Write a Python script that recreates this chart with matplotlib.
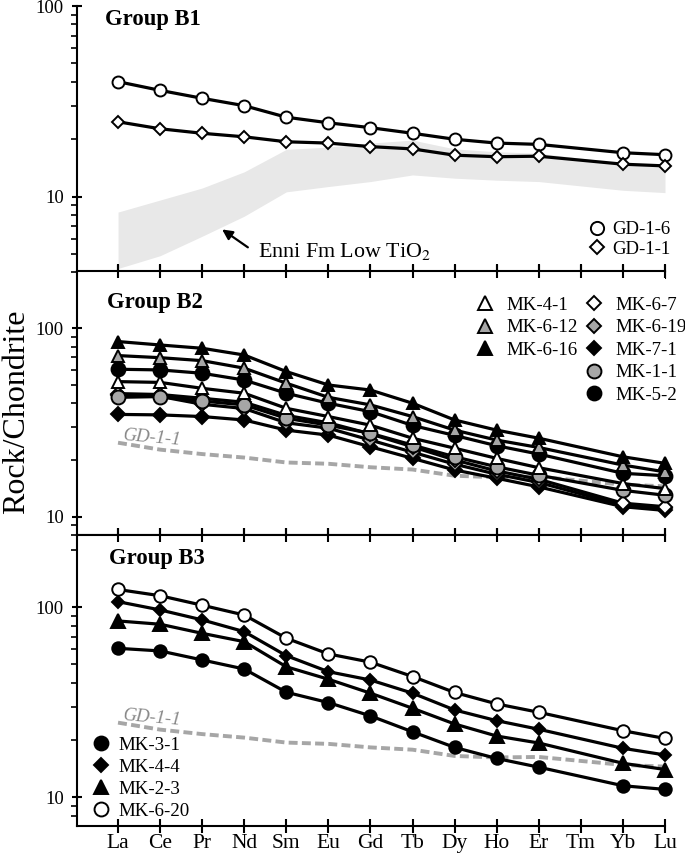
import matplotlib
matplotlib.use("Agg")
import matplotlib.pyplot as plt
from matplotlib.lines import Line2D
from matplotlib.ticker import LogLocator, NullFormatter

plt.rcParams["font.family"] = ["Liberation Serif", "DejaVu Serif"]
plt.rcParams["mathtext.fontset"] = "stix"

# REE order on the x axis; Tm was not measured
elements = ["La", "Ce", "Pr", "Nd", "Sm", "Eu", "Gd", "Tb", "Dy", "Ho", "Er", "Tm", "Yb", "Lu"]
measured = ["La", "Ce", "Pr", "Nd", "Sm", "Eu", "Gd", "Tb", "Dy", "Ho", "Er", "Yb", "Lu"]

# Group B1
gd_1_6 = [40.1, 36.1, 32.8, 30.0, 26.1, 24.4, 23.0, 21.5, 20.0, 19.1, 18.8, 17.0, 16.6]
gd_1_1 = [24.7, 22.7, 21.5, 20.6, 19.4, 19.1, 18.3, 17.8, 16.5, 16.2, 16.3, 14.8, 14.5]
enni_upper = [8.3, 9.6, 11.1, 13.5, 17.7, 18.2, 19.1, 19.8, 17.8, 17.2, 16.9, 15.0, 14.3]
enni_lower = [4.2, 4.9, 6.2, 7.9, 10.6, 11.3, 12.0, 13.0, 12.5, 12.2, 12.0, 10.8, 10.5]

# Group B2
mk_4_1 = [52.1, 51.6, 48.0, 45.2, 37.6, 34.0, 30.6, 26.1, 23.1, 20.4, 18.2, 15.0, 14.1]
mk_6_12 = [71.6, 69.8, 67.3, 61.4, 51.1, 43.0, 39.2, 34.0, 28.8, 25.5, 23.3, 18.8, 17.3]
mk_6_16 = [85.0, 81.5, 78.3, 72.1, 58.9, 50.0, 47.0, 40.0, 32.6, 28.8, 26.1, 20.8, 19.2]
mk_6_7 = [45.0, 44.5, 42.5, 40.5, 34.5, 31.5, 27.5, 23.5, 20.0, 17.5, 15.8, 11.8, 11.3]
mk_6_19 = [44.0, 43.5, 39.5, 37.5, 31.5, 29.5, 25.5, 22.0, 19.0, 16.8, 15.2, 11.5, 11.1]
mk_7_1 = [34.9, 34.7, 34.0, 32.6, 28.8, 27.1, 23.5, 20.4, 17.7, 16.0, 14.4, 11.3, 10.8]
mk_1_1 = [43.0, 43.4, 41.1, 39.2, 33.3, 30.6, 27.7, 24.0, 20.8, 18.4, 16.6, 13.8, 13.0]
mk_5_2 = [60.6, 60.1, 57.7, 53.1, 45.2, 40.0, 36.1, 30.5, 27.0, 23.8, 21.5, 17.0, 16.5]

# Group B3
mk_3_1 = [60.8, 58.9, 52.8, 47.3, 35.7, 31.5, 26.8, 22.1, 18.3, 16.0, 14.4, 11.5, 11.0]
mk_4_4 = [107.0, 96.8, 85.8, 74.4, 55.6, 45.8, 41.4, 35.3, 28.8, 25.3, 22.8, 18.1, 16.7]
mk_2_3 = [84.7, 81.4, 72.9, 65.9, 48.6, 41.8, 35.3, 29.4, 24.3, 21.0, 19.3, 15.1, 14.0]
mk_6_20 = [124.0, 115.0, 102.5, 91.0, 68.7, 56.8, 51.4, 43.2, 35.6, 31.0, 28.0, 22.4, 20.4]

GREY = "#a6a6a6"
BAND = "#e8e8e8"
FILL = {"open": "white", "grey": GREY, "black": "black"}

xpos = [elements.index(e) for e in measured]

W_PX, H_PX = 685, 857
LEFT_PX, RIGHT_PX = 77, 665
panels_px = [(6, 271.5), (271.5, 535), (535, 826)]
ylims = [(4.05, 100), (8.0, 200), (7.06, 240)]


def _style_axes(ax, ylim, show_top, show_labels):
    ax.set_yscale("log")
    ax.set_xlim(-0.975, 13)
    ax.set_ylim(*ylim)
    ax.spines["right"].set_visible(False)
    ax.spines["top"].set_visible(show_top)
    for s in ax.spines.values():
        s.set_linewidth(1.5)
    ax.set_xticks(range(len(elements)))
    ax.set_xticklabels(elements if show_labels else [])
    ax.tick_params(axis="x", direction="inout", length=10, width=1.5,
                   top=show_top, bottom=True, labelsize=15.5, pad=1)
    ax.set_yticks([10, 100])
    ax.set_yticklabels(["10", "100"])
    ax.yaxis.set_minor_locator(LogLocator(base=10, subs=range(2, 10)))
    ax.yaxis.set_minor_formatter(NullFormatter())
    ax.tick_params(axis="y", which="major", direction="inout", length=7, width=1.5,
                   labelsize=13.5, pad=6)
    ax.tick_params(axis="y", which="minor", direction="out", length=4, width=1.2)


def _series(ax, values, marker, fill, ms, z=3):
    ax.plot(xpos, values, color="black", lw=2.3, zorder=z, clip_on=False,
            marker=marker, ms=ms, mfc=FILL[fill], mec="black", mew=1.4)


def _handle(marker, fill, ms):
    return Line2D([], [], ls="none", marker=marker, ms=ms, mfc=FILL[fill],
                  mec="black", mew=1.4)


def _gd_ref(ax, label_y):
    ax.plot(xpos, gd_1_1, color=GREY, lw=2.8, ls=(0, (2.3, 1.1)), zorder=2)
    ax.text(0.12, label_y, "GD-1-1", color="#888888", fontsize=13.5, style="italic",
            rotation=-5, rotation_mode="anchor", ha="left", va="baseline")


fig = plt.figure(figsize=(W_PX / 100, H_PX / 100), dpi=100)
axes = []
for (top, bottom), yl in zip(panels_px, ylims):
    rect = [LEFT_PX / W_PX, 1 - bottom / H_PX, (RIGHT_PX - LEFT_PX) / W_PX, (bottom - top) / H_PX]
    axes.append(fig.add_axes(rect))

ax1, ax2, ax3 = axes
_style_axes(ax1, ylims[0], False, False)
_style_axes(ax2, ylims[1], True, False)
_style_axes(ax3, ylims[2], True, True)

# ---- Group B1
ax1.fill_between(xpos, enni_lower, enni_upper, color=BAND, lw=0, zorder=1)
_series(ax1, gd_1_6, "o", "open", 8.6)
_series(ax1, gd_1_1, "D", "open", 6.2)
ax1.text(0.048, 0.928, "Group B1", transform=ax1.transAxes, fontsize=16.3,
         fontweight="bold", ha="left", va="baseline")
ax1.annotate("", xy=(2.42, 6.86), xytext=(3.14, 5.32),
             arrowprops=dict(arrowstyle="-|>", lw=1.6, color="black", mutation_scale=15))
ax1.text(0.308, 0.0535, "Enni Fm Low TiO$_2$", transform=ax1.transAxes, fontsize=15.8,
         ha="left", va="baseline")
ax1.legend([_handle("o", "open", 9.5), _handle("D", "open", 7)], ["GD-1-6", "GD-1-1"],
           loc="upper left", bbox_to_anchor=(0.869, 0.19), frameon=False,
           fontsize=13.5, handlelength=1.0, handletextpad=0.3, labelspacing=0.12,
           borderpad=0, borderaxespad=0)

# ---- Group B2
_gd_ref(ax2, 25.6)
_series(ax2, mk_7_1, "D", "black", 7.5)
_series(ax2, mk_6_19, "D", "grey", 7.5)
_series(ax2, mk_6_7, "D", "open", 7.5)
_series(ax2, mk_1_1, "o", "grey", 10)
_series(ax2, mk_4_1, "^", "open", 9)
_series(ax2, mk_5_2, "o", "black", 10)
_series(ax2, mk_6_12, "^", "grey", 9)
_series(ax2, mk_6_16, "^", "black", 9)
ax2.text(0.051, 0.860, "Group B2", transform=ax2.transAxes, fontsize=16.3,
         fontweight="bold", ha="left", va="baseline")
leg2a = ax2.legend([_handle("^", "open", 10.5), _handle("^", "grey", 10.5), _handle("^", "black", 10.5)],
                   ["MK-4-1", "MK-6-12", "MK-6-16"],
                   loc="upper left", bbox_to_anchor=(0.677, 0.905), frameon=False,
                   fontsize=13.6, handlelength=1.0, handletextpad=0.65, labelspacing=0.28,
                   borderpad=0, borderaxespad=0)
ax2.add_artist(leg2a)
ax2.legend([_handle("D", "open", 7), _handle("D", "grey", 7), _handle("D", "black", 7),
            _handle("o", "grey", 10), _handle("o", "black", 10)],
           ["MK-6-7", "MK-6-19", "MK-7-1", "MK-1-1", "MK-5-2"],
           loc="upper left", bbox_to_anchor=(0.864, 0.905), frameon=False,
           fontsize=13.6, handlelength=1.0, handletextpad=0.6, labelspacing=0.28,
           borderpad=0, borderaxespad=0)

# ---- Group B3
_gd_ref(ax3, 25.6)
_series(ax3, mk_3_1, "o", "black", 9)
_series(ax3, mk_2_3, "^", "black", 10)
_series(ax3, mk_4_4, "D", "black", 6.3)
_series(ax3, mk_6_20, "o", "open", 9)
ax3.text(0.054, 0.899, "Group B3", transform=ax3.transAxes, fontsize=16.3,
         fontweight="bold", ha="left", va="baseline")
ax3.legend([_handle("o", "black", 10), _handle("D", "black", 7), _handle("^", "black", 10.5),
            _handle("o", "open", 10)],
           ["MK-3-1", "MK-4-4", "MK-2-3", "MK-6-20"],
           loc="upper left", bbox_to_anchor=(0.024, 0.308), frameon=False,
           fontsize=13.6, handlelength=1.0, handletextpad=0.45, labelspacing=0.26,
           borderpad=0, borderaxespad=0)

fig.text(17 / W_PX, 1 - 412 / H_PX, "Rock/Chondrite", rotation=90, fontsize=23,
         ha="center", va="center")

fig.savefig("out.png", dpi=100)
